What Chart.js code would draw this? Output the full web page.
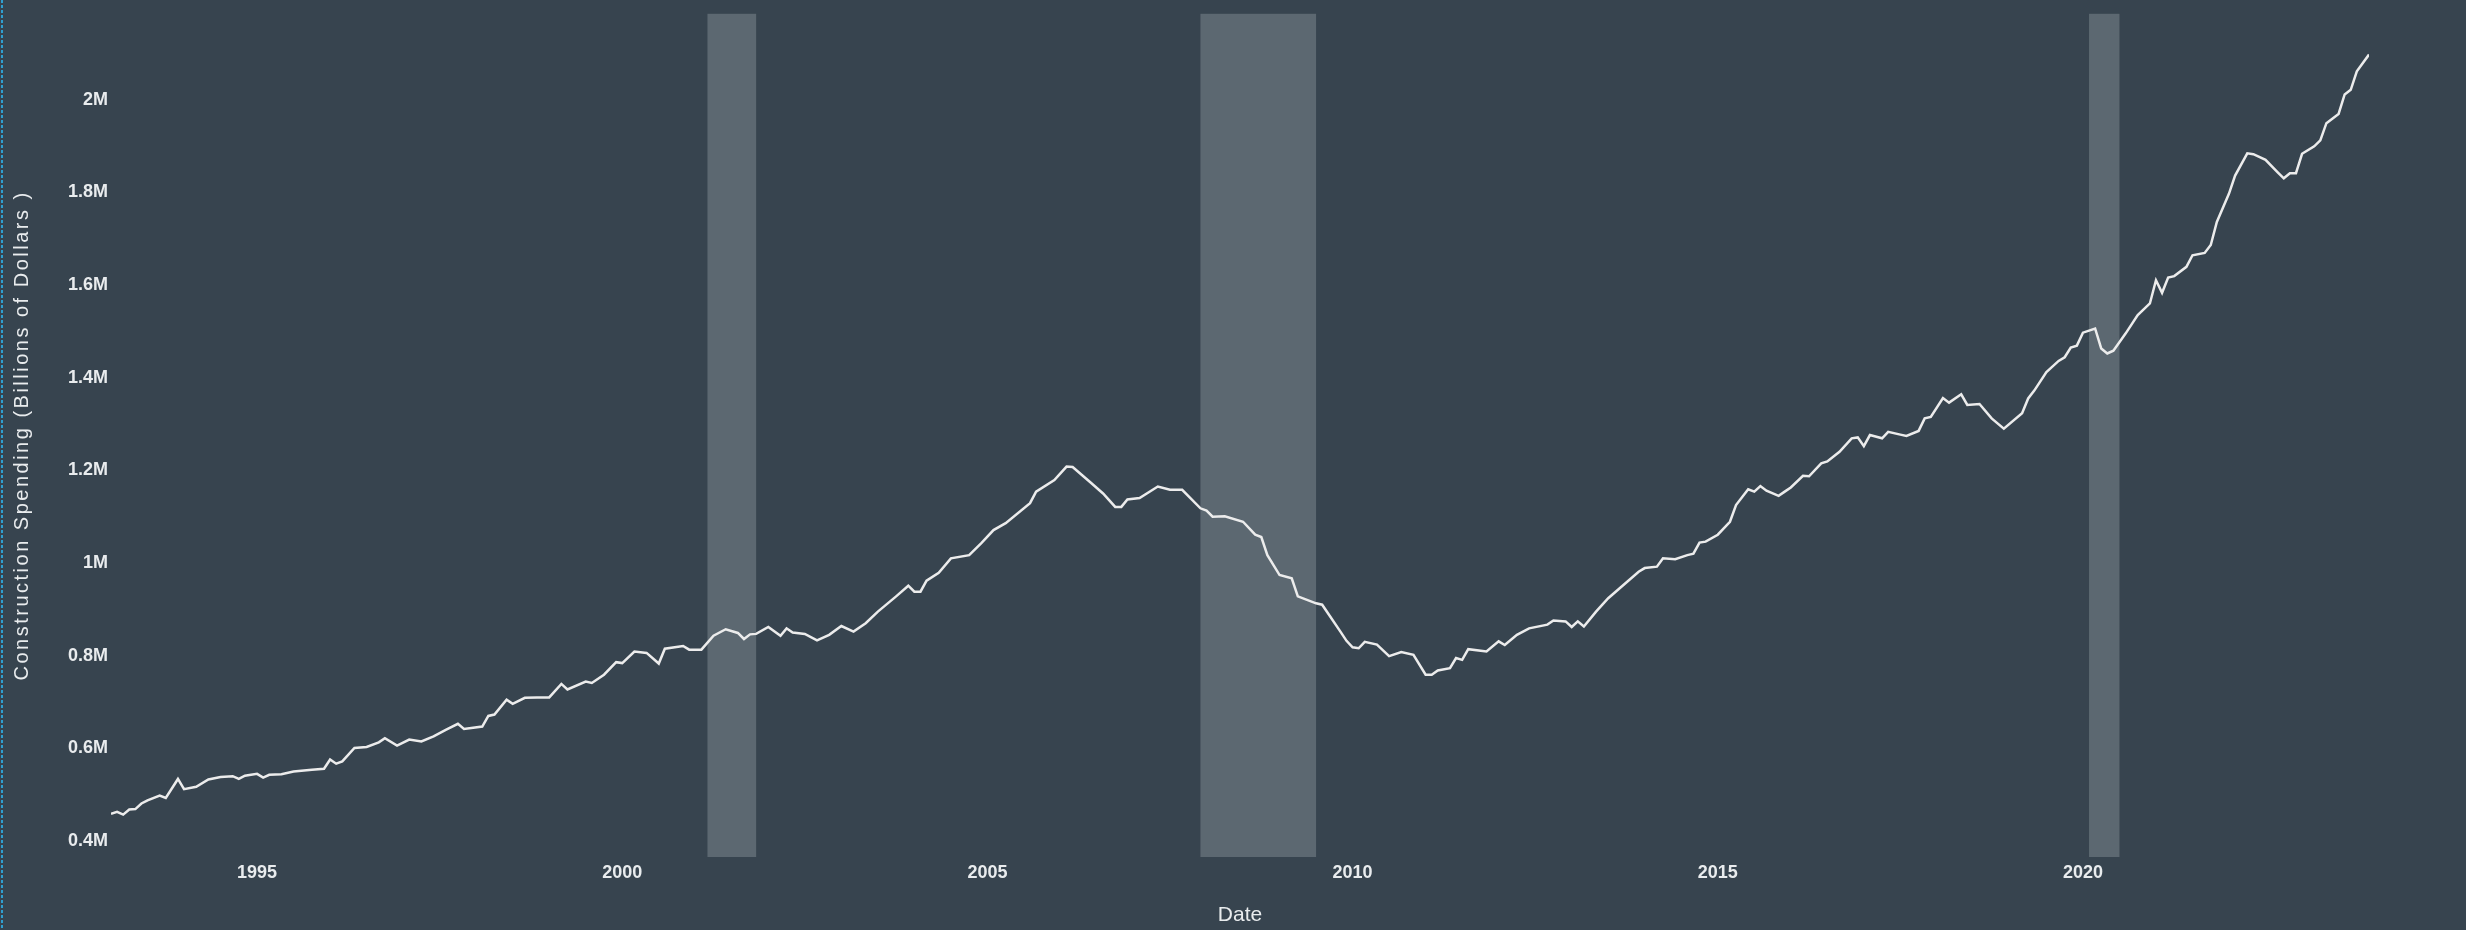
<!DOCTYPE html>
<html><head><meta charset="utf-8">
<script src="https://cdn.jsdelivr.net/npm/chart.js@4.4.1/dist/chart.umd.min.js"></script>
<style>
html,body{margin:0;padding:0;background:#37444f;overflow:hidden;}
#wrap{position:relative;width:2466px;height:930px;}
#edge{position:absolute;left:1px;top:0;width:2px;height:930px;background:repeating-linear-gradient(to bottom,#2f9fd0 0 3px,transparent 3px 5px);}
canvas{display:block;}
</style></head><body>
<div id="wrap"><canvas id="c" width="2466" height="930"></canvas><div id="edge"></div></div>
<script>
// Monthly observations (YYYY-MM) and construction spending (millions of dollars, SAAR)
const months = [
"1993-01","1993-02","1993-03","1993-04","1993-05","1993-06","1993-07","1993-09","1993-10","1993-12",
"1994-01","1994-03","1994-05","1994-07","1994-09","1994-10","1994-11",
"1995-01","1995-02","1995-03","1995-05","1995-07","1995-10","1995-12",
"1996-01","1996-02","1996-03","1996-05","1996-07","1996-09","1996-10","1996-12",
"1997-02","1997-04","1997-06","1997-08","1997-10","1997-11",
"1998-02","1998-03","1998-04","1998-06","1998-07","1998-09","1998-11",
"1999-01","1999-03","1999-04","1999-07","1999-08","1999-10","1999-12",
"2000-01","2000-03","2000-05","2000-07","2000-08","2000-11","2000-12",
"2001-02","2001-04","2001-06","2001-08","2001-09","2001-10","2001-11",
"2002-01","2002-03","2002-04","2002-05","2002-07","2002-09","2002-11",
"2003-01","2003-03","2003-05","2003-07","2003-10","2003-12",
"2004-01","2004-02","2004-03","2004-05","2004-07","2004-10","2004-12",
"2005-02","2005-04","2005-08","2005-09","2005-12",
"2006-02","2006-03","2006-06","2006-08","2006-10","2006-11","2006-12",
"2007-02","2007-05","2007-07","2007-09","2007-12",
"2008-01","2008-02","2008-04","2008-07","2008-09","2008-10","2008-11",
"2009-01","2009-03","2009-04","2009-07","2009-08","2009-11","2009-12",
"2010-01","2010-02","2010-03","2010-05","2010-07","2010-09","2010-11",
"2011-01","2011-02","2011-03","2011-05","2011-06","2011-07","2011-08","2011-11",
"2012-01","2012-02","2012-04","2012-06","2012-09","2012-10","2012-12",
"2013-01","2013-02","2013-03","2013-05","2013-07","2013-12",
"2014-01","2014-03","2014-04","2014-06","2014-08","2014-09","2014-10","2014-11",
"2015-01","2015-03","2015-04","2015-06","2015-07","2015-08","2015-09","2015-11","2015-12",
"2016-01","2016-03","2016-04","2016-06","2016-07","2016-09","2016-11","2016-12",
"2017-01","2017-02","2017-04","2017-05","2017-07","2017-08","2017-10","2017-11","2017-12",
"2018-02","2018-03","2018-05","2018-06","2018-08","2018-10","2018-12",
"2019-03","2019-04","2019-05","2019-07","2019-09","2019-10","2019-11","2019-12",
"2020-01","2020-03","2020-04","2020-05","2020-06","2020-08","2020-10","2020-12",
"2021-01","2021-02","2021-03","2021-04","2021-06","2021-07","2021-09","2021-10","2021-11",
"2022-01","2022-02","2022-04","2022-05","2022-07","2022-09","2022-10","2022-11","2022-12",
"2023-01","2023-03","2023-04","2023-05","2023-07","2023-08","2023-09","2023-10","2023-12"
];
const spending = [
459000,463000,457000,468000,469000,481000,488000,498000,493000,534000,
512000,517000,533000,538000,540000,534000,541000,
545000,537000,543000,544000,550000,554000,556000,
576000,567000,572000,601000,603000,613000,622000,606000,
619000,615000,626000,640000,653000,642000,
647000,670000,673000,705000,696000,709000,710000,
710000,739000,727000,744000,741000,759000,786000,
784000,809000,806000,783000,815000,821000,813000,
813000,843000,857000,849000,836000,846000,847000,
862000,843000,859000,850000,847000,833000,845000,
864000,852000,870000,895000,928000,951000,
938000,938000,962000,979000,1010000,1017000,1043000,
1071000,1086000,1129000,1154000,1179000,
1208000,1207000,1173000,1150000,1121000,1121000,1137000,
1140000,1165000,1158000,1158000,1118000,
1113000,1100000,1101000,1089000,1061000,1056000,1017000,
974000,967000,928000,913000,910000,852000,832000,
818000,816000,830000,824000,799000,808000,802000,
759000,759000,768000,773000,795000,791000,814000,809000,
831000,823000,845000,859000,867000,876000,874000,
862000,874000,863000,895000,924000,981000,
989000,992000,1010000,1008000,1017000,1020000,1044000,1046000,
1061000,1089000,1125000,1159000,1154000,1166000,1156000,1145000,1154000,
1163000,1188000,1187000,1215000,1219000,1240000,1269000,1271000,
1252000,1276000,1269000,1283000,1277000,1274000,1285000,1312000,1315000,
1356000,1346000,1364000,1341000,1343000,1312000,1290000,
1323000,1355000,1372000,1412000,1436000,1444000,1465000,1469000,
1497000,1506000,1463000,1452000,1458000,1495000,1535000,1560000,
1610000,1583000,1616000,1619000,1639000,1664000,1669000,1686000,1736000,
1797000,1836000,1884000,1882000,1870000,1843000,1830000,1841000,1841000,
1883000,1899000,1912000,1949000,1969000,2011000,2021000,2061000,2097000
];
// Recession periods (shaded)
const recessionStart = ["2001-03","2007-12","2020-02"];
const recessionEnd   = ["2001-11","2009-07","2020-07"];
// Tick labels
const xTickYears = [1995,2000,2005,2010,2015,2020];
const yTickValues = [400000,600000,800000,1000000,1200000,1400000,1600000,1800000,2000000];

function toYear(m){ const p = m.split("-"); return +p[0] + (+p[1]-1)/12; }

const points = months.map((m,i)=>({x: toYear(m), y: spending[i]}));

const recessionPlugin = {
  id:'recessions',
  beforeDatasetsDraw(chart){
    const {ctx, chartArea:a, scales:{x}} = chart;
    ctx.save();
    ctx.fillStyle = '#5c6871';
    recessionStart.forEach((s,i)=>{
      const x1 = x.getPixelForValue(toYear(s));
      const x2 = x.getPixelForValue(toYear(recessionEnd[i]));
      ctx.fillRect(x1, a.top, x2-x1, a.bottom-a.top);
    });
    ctx.restore();
  }
};

const TXT = '#e9ecee';
const chart = new Chart(document.getElementById('c'), {
  type:'line',
  data:{datasets:[{
    label:'Construction Spending',
    data: points,
    borderColor:'#ececec',
    borderWidth:2.5,
    pointRadius:0,
    tension:0,
    fill:false
  }]},
  options:{
    responsive:false,
    devicePixelRatio:1,
    animation:false,
    layout:{padding:{left:0,right:97,top:12,bottom:0}},
    plugins:{legend:{display:false},tooltip:{enabled:false}},
    scales:{
      x:{
        type:'linear',
        min: toYear(months[0]),
        max: toYear(months[months.length-1]),
        afterBuildTicks(s){ s.ticks = xTickYears.map(v=>({value:v})); },
        afterFit(s){ s.height = 73; },
        grid:{display:false, drawTicks:false},
        border:{display:false},
        ticks:{color:TXT, font:{family:'Liberation Sans', size:18, weight:'bold'}, padding:5, maxRotation:0,
               callback:(v)=>String(v)},
        title:{display:true, text:'Date', color:TXT, font:{family:'Liberation Sans', size:21}, padding:{top:0,bottom:2}}
      },
      y:{
        type:'linear',
        min:365600, max:2185000,
        afterBuildTicks(s){ s.ticks = yTickValues.map(v=>({value:v})); },
        afterFit(s){
          s.width = 111;
          if(!s._spacedTitle){
            const orig = s.drawTitle;
            s.drawTitle = function(){
              const ctx = this.ctx;
              ctx.save();
              ctx.letterSpacing = '2.5px';
              orig.apply(this, arguments);
              ctx.restore();
            };
            s._spacedTitle = true;
          }
        },
        grid:{display:false, drawTicks:false},
        border:{display:false},
        ticks:{color:TXT, font:{family:'Liberation Sans', size:18, weight:'bold'}, padding:3,
               callback:(v)=>(v/1e6)+'M'},
        title:{display:true, text:'Construction Spending (Billions of Dollars )', color:TXT,
               font:{family:'Liberation Sans', size:20}, padding:{top:10,bottom:0}}
      }
    }
  },
  plugins:[recessionPlugin]
});
</script>
</body></html>
